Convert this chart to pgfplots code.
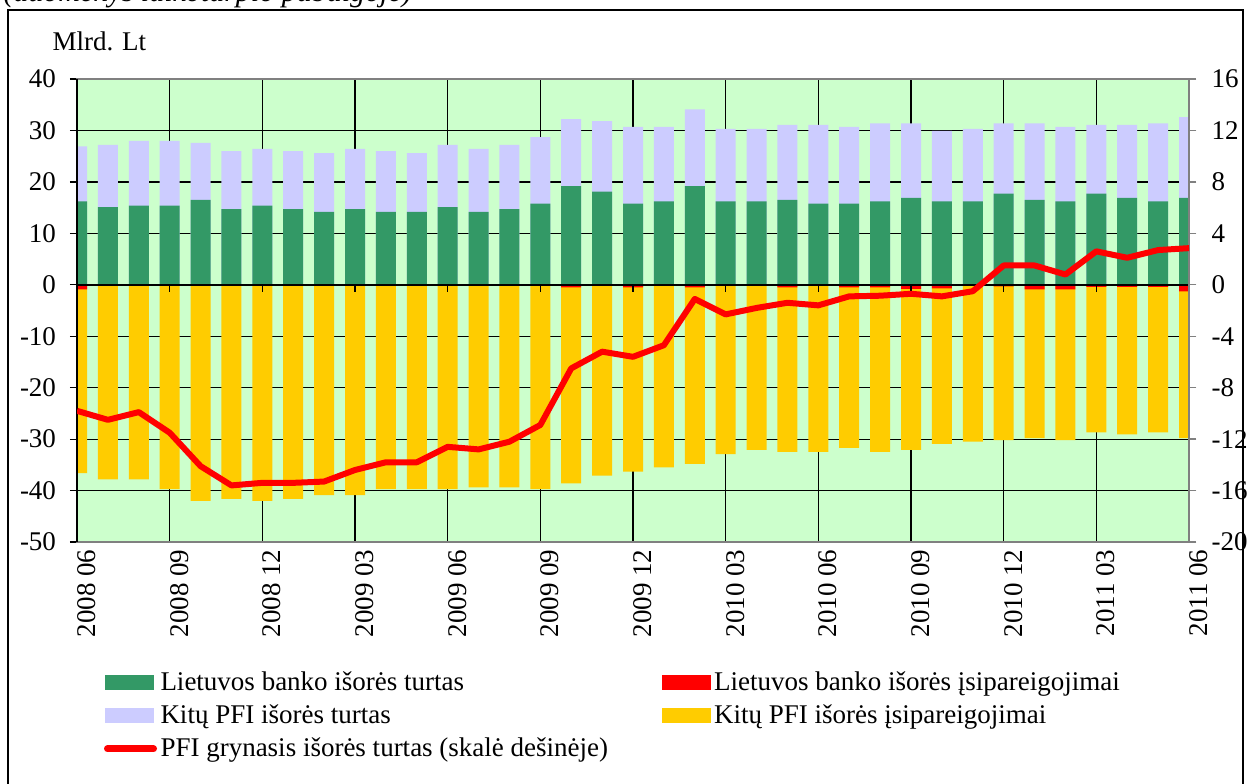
\documentclass[border=0pt]{standalone}
\usepackage{fontspec}
\setmainfont{Liberation Serif}
\usepackage{pgfplots}
\pgfplotsset{compat=1.18}
\usepackage{pgfplotstable}

\definecolor{bg}{HTML}{CCFFCC}
\definecolor{lbgreen}{HTML}{339966}
\definecolor{lav}{HTML}{CCCCFF}
\definecolor{yel}{HTML}{FFCC00}
\definecolor{axgray}{HTML}{808080}

\pgfplotstableread{
i g tot r neg net
0 16.2 26.9 -0.9 -36.6 -9.8
1 15.1 27.2 -0.1 -37.8 -10.5
2 15.4 28.0 -0.1 -37.8 -9.9
3 15.4 28.0 -0.1 -39.7 -11.5
4 16.5 27.6 -0.1 -42.0 -14.1
5 14.7 26.0 -0.1 -41.6 -15.6
6 15.4 26.4 -0.1 -42.0 -15.4
7 14.7 26.0 -0.1 -41.6 -15.4
8 14.2 25.6 -0.1 -40.9 -15.3
9 14.7 26.4 -0.1 -40.9 -14.4
10 14.2 26.0 -0.1 -39.7 -13.8
11 14.2 25.6 -0.1 -39.7 -13.8
12 15.1 27.2 -0.1 -39.7 -12.6
13 14.2 26.4 -0.1 -39.4 -12.8
14 14.7 27.2 -0.1 -39.4 -12.2
15 15.8 28.7 -0.2 -39.7 -10.9
16 19.2 32.2 -0.5 -38.6 -6.5
17 18.1 31.8 -0.2 -37.1 -5.2
18 15.8 30.7 -0.5 -36.3 -5.6
19 16.2 30.7 -0.2 -35.5 -4.7
20 19.2 34.1 -0.5 -34.8 -1.1
21 16.2 30.3 -0.2 -32.9 -2.3
22 16.2 30.3 -0.2 -32.1 -1.8
23 16.5 31.1 -0.5 -32.5 -1.4
24 15.8 31.1 -0.2 -32.5 -1.6
25 15.8 30.7 -0.5 -31.7 -0.9
26 16.2 31.4 -0.5 -32.5 -0.85
27 16.9 31.4 -0.8 -32.1 -0.7
28 16.2 29.9 -0.7 -30.9 -0.9
29 16.2 30.3 -0.2 -30.5 -0.5
30 17.7 31.4 -0.3 -30.2 1.5
31 16.5 31.4 -0.9 -29.8 1.5
32 16.2 30.7 -0.9 -30.2 0.8
33 17.7 31.1 -0.4 -28.7 2.6
34 16.9 31.1 -0.4 -29.1 2.1
35 16.2 31.4 -0.4 -28.7 2.7
36 16.9 32.6 -1.3 -29.8 2.85
}\data

\newcommand{\lfont}{\fontsize{10.8}{13}\selectfont}

\begin{document}
\begin{tikzpicture}[font=\lfont]
\useasboundingbox (0,0) rectangle (500pt,-313.2pt);
\draw[line width=0.5pt] (3.2pt,-4pt) rectangle (497.2pt,-330pt);
\node[anchor=base west, inner sep=0pt, font=\itshape\fontsize{12}{14}\selectfont] at (1.2pt,-0.6pt) {(duomenys laikotarpio pabaigoje)};
\node[anchor=base west, inner sep=0pt] at (20.8pt,-20pt) {Mlrd. Lt};

\begin{axis}[
  at={(30.8pt,-216.8pt)}, anchor=south west,
  scale only axis, width=444.8pt, height=185.2pt,
  xmin=0, xmax=36, ymin=-50, ymax=40,
  ytick={-50,-40,...,40},
  yticklabels={-50,-40,-30,-20,-10,0,10,20,30,40},
  xtick={0,3,...,36},
  xticklabels={2008 06,2008 09,2008 12,2009 03,2009 06,2009 09,2009 12,2010 03,2010 06,2010 09,2010 12,2011 03,2011 06},
  tick label style={font=\lfont},
  x tick label style={rotate=90, anchor=east, inner sep=0pt, yshift=-3.8pt},
  yticklabel style={inner sep=0pt, xshift=-5.4pt},
  grid=major, grid style={black, line width=0.5pt},
  axis background/.style={fill=bg},
  axis line style={axgray, line width=0.6pt},
  tick align=outside,
  major tick length=2.8pt,
  ytick style={black, line width=0.5pt},
  xtick style={draw=none},
  ybar, bar width=8pt, bar shift=0pt,
  clip mode=individual,
  legend columns=2,
  legend cell align=left,
  legend style={at={(rel axis cs:0,0)}, anchor=north west, xshift=10.6pt, yshift=-50.2pt,
    draw=none, fill=none, inner sep=0pt, font=\lfont,
    nodes={inner sep=1.4pt},
    row sep=1.4pt,
    /tikz/every even column/.append style={column sep=20pt}},
]
\addlegendimage{legend image code/.code={\fill[lbgreen] (0pt,-2.8pt) rectangle (19.2pt,2.8pt);}}
\addlegendentry{Lietuvos banko išorės turtas}
\addlegendimage{legend image code/.code={\fill[red] (0pt,-2.8pt) rectangle (19.2pt,2.8pt);}}
\addlegendentry{Lietuvos banko išorės įsipareigojimai}
\addlegendimage{legend image code/.code={\fill[lav] (0pt,-2.8pt) rectangle (19.2pt,2.8pt);}}
\addlegendentry{Kitų PFI išorės turtas}
\addlegendimage{legend image code/.code={\fill[yel] (0pt,-2.8pt) rectangle (19.2pt,2.8pt);}}
\addlegendentry{Kitų PFI išorės įsipareigojimai}
\addlegendimage{legend image code/.code={\draw[red, line width=2.8pt, line cap=round] (0.8pt,0pt) -- (19.2pt,0pt);}}
\addlegendentry{PFI grynasis išorės turtas (skalė dešinėje)}

\addplot[fill=lav, draw=none, forget plot] table[x=i,y=tot]{\data};
\addplot[fill=lbgreen, draw=none, forget plot] table[x=i,y=g]{\data};
\addplot[fill=yel, draw=none, forget plot] table[x=i,y=neg]{\data};
\addplot[fill=red, draw=none, forget plot] table[x=i,y=r]{\data};

\draw[black, line width=0.6pt] (axis cs:0,0) -- (axis cs:36,0);
\pgfplotsinvokeforeach{3,6,...,33}{\draw[black, line width=0.5pt] (axis cs:#1,0) -- ++(0pt,-2.8pt);}
\draw[black, line width=0.6pt] (rel axis cs:0,0) -- (rel axis cs:0,1);
\end{axis}

\begin{axis}[
  at={(30.8pt,-216.8pt)}, anchor=south west,
  scale only axis, width=444.8pt, height=185.2pt,
  xmin=0, xmax=36, ymin=-20, ymax=16,
  ytick={-20,-16,...,16},
  yticklabels={-20,-16,-12,-8,-4,0,4,8,12,16},
  axis y line*=right, axis x line=none,
  tick label style={font=\lfont},
  yticklabel style={inner sep=0pt, xshift=6pt, anchor=west},
  y axis line style={axgray, line width=0.6pt},
  ytick style={axgray, line width=0.5pt},
  tick align=outside,
  major tick length=2.8pt,
]
\addplot[red, line width=2.4pt, line join=round] table[x=i,y=net]{\data};
\end{axis}
\end{tikzpicture}
\end{document}
